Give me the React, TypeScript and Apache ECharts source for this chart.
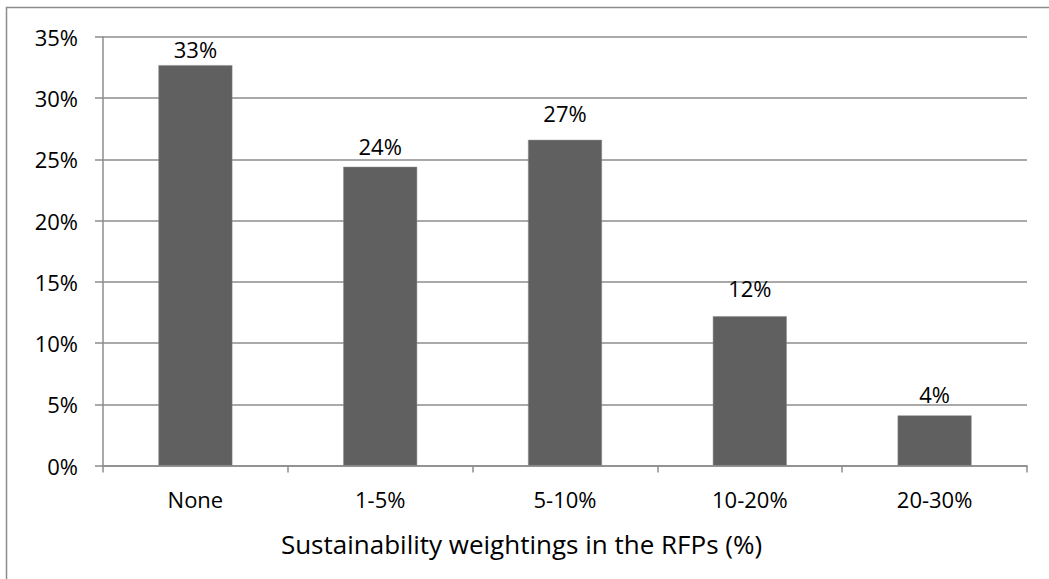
import React, { useEffect, useRef } from "react";
import * as echarts from "echarts";

const categories = ["None", "1-5%", "5-10%", "10-20%", "20-30%"];
const values = [32.7, 24.4, 26.6, 12.2, 4.1];
const yTicks = { min: 0, max: 35, interval: 5 };
const xAxisTitle = "Sustainability weightings in the RFPs (%)";

// style: distance of each data label above its bar (px)
const labelDistance = [5, 10, 16, 17, 10];

const FONT = "Open Sans";

export default function App() {
  const ref = useRef<HTMLDivElement>(null);
  useEffect(() => {
    if (!ref.current) return;
    const chart = echarts.init(ref.current, null, { renderer: "svg" });
    chart.setOption({
      animation: false,
      backgroundColor: "#ffffff",
      textStyle: { fontFamily: FONT },
      grid: { left: 103, right: 22, top: 37, bottom: 113.4, containLabel: false },
      graphic: [
        {
          type: "polyline",
          shape: { points: [[6.5, 579], [6.5, 7.5], [1049, 7.5]] },
          style: { stroke: "#8c8c8c", lineWidth: 1.5, fill: null },
          silent: true,
        },
        {
          type: "text",
          x: 521.5,
          y: 544,
          style: {
            text: xAxisTitle,
            fontSize: 26,
            fontFamily: FONT,
            fill: "#000",
            align: "center",
            verticalAlign: "middle",
          },
          silent: true,
        },
      ],
      xAxis: {
        type: "category",
        data: categories,
        axisLine: { lineStyle: { color: "#8c8c8c", width: 1.5 } },
        axisTick: { show: true, length: 7, lineStyle: { color: "#8c8c8c", width: 1.5 } },
        axisLabel: { color: "#000", fontSize: 22, fontFamily: FONT, margin: 22 },
      },
      yAxis: {
        type: "value",
        min: yTicks.min,
        max: yTicks.max,
        interval: yTicks.interval,
        axisLine: { show: true, lineStyle: { color: "#8c8c8c", width: 1.5 } },
        axisTick: { show: true, length: 8, lineStyle: { color: "#8c8c8c", width: 1.5 } },
        axisLabel: {
          color: "#000",
          fontSize: 22,
          fontFamily: FONT,
          margin: 25,
          formatter: (v: number) => `${v}%`,
        },
        splitLine: { show: true, lineStyle: { color: "#8c8c8c", width: 1.5 } },
      },
      series: [
        {
          type: "bar",
          data: values.map((v, i) => ({ value: v, label: { distance: labelDistance[i] } })),
          barWidth: "40%",
          itemStyle: { color: "#606060", borderColor: "#8a8a8a", borderWidth: 0.5 },
          label: {
            show: true,
            position: "top",
            color: "#000",
            fontSize: 22,
            fontFamily: FONT,
            formatter: (p: any) => `${Math.round(p.value)}%`,
          },
        },
      ],
    });
    return () => chart.dispose();
  }, []);
  return (
    <div
      ref={ref}
      style={{ position: "fixed", left: 0, top: 0, width: 1049, height: 579, background: "#fff" }}
    />
  );
}
